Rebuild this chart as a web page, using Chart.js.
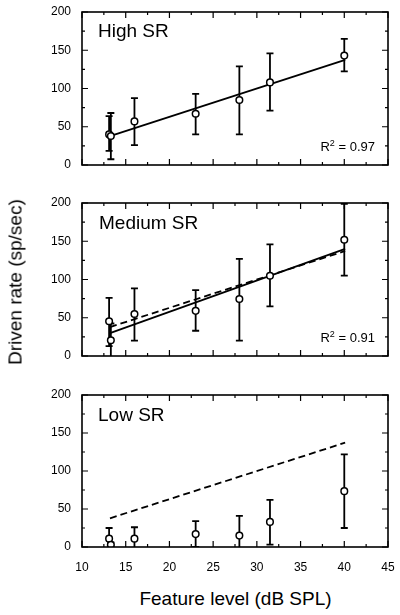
<!DOCTYPE html>
<html><head><meta charset="utf-8">
<script src="https://cdn.jsdelivr.net/npm/chart.js@4/dist/chart.umd.min.js"></script>
<style>
html,body{margin:0;padding:0;background:#fff;}
body{width:400px;height:615px;position:relative;overflow:hidden;font-family:"Liberation Sans",Arial,Helvetica,sans-serif;color:#000;}
canvas{position:absolute;left:0;}
.t{position:absolute;line-height:1;white-space:nowrap;color:#000;}
.sup{font-size:9px;position:relative;top:-5px;}
</style></head><body>
<canvas id="c1" width="400" height="180" style="top:0px;width:400px;height:180px"></canvas>
<canvas id="c2" width="400" height="180" style="top:191px;width:400px;height:180px"></canvas>
<canvas id="c3" width="400" height="200" style="top:383px;width:400px;height:200px"></canvas>

<div class="t" style="left:98px;top:20.7px;font-size:19px">High SR</div>
<div class="t" style="left:99px;top:213.2px;font-size:19px">Medium SR</div>
<div class="t" style="left:98px;top:404.6px;font-size:19px">Low SR</div>
<div class="t" style="right:25px;top:139.7px;font-size:13px">R<span class="sup">2</span> = 0.97</div>
<div class="t" style="right:25px;top:330.7px;font-size:13px">R<span class="sup">2</span> = 0.91</div>
<div class="t" style="left:235.5px;top:588.9px;font-size:19px;transform:translateX(-50%)">Feature level (dB SPL)</div>
<div class="t" style="left:14.5px;top:281.7px;font-size:19px;transform:translate(-50%,-50%) rotate(-90deg)">Driven rate (sp/sec)</div>

<script>
// ---- data ----
const featureLevel = [13.1, 13.3, 16.0, 23.0, 28.0, 31.5, 40.0];

const highMean  = [40, 38, 57, 67, 85, 108, 143];
const highLower = [18.5, 7.5, 26, 40, 40, 71, 122.5];
const highUpper = [64, 68, 87.5, 93, 129, 146, 165];

const medMean  = [45.5, 20.5, 55, 59, 74.5, 105, 152];
const medLower = [13, -1.5, 20, 33, 20, 65, 105];
const medUpper = [76, 42.5, 88.5, 86, 127, 146, 199];

const lowMean  = [11, 3, 11, 17, 15, 33, 73.5];
const lowLower = [-3, 0, -4, 0, -11, 3, 25];
const lowUpper = [25, 6, 26, 34, 41, 62, 122];

const fitX    = [13.2, 40.1];
const highFit = [37.8, 137.3];   // High SR regression (also shown dashed in other panels)
const medFit  = [30, 140];

const xTicks = [10, 15, 20, 25, 30, 35, 40, 45];
const xMinorTicks = [12.5, 17.5, 22.5, 27.5, 32.5, 37.5, 42.5];
const yTicks = [0, 50, 100, 150, 200];
const yMinorTicks = [25, 75, 125, 175];

// ---- plugin: error bars, frame, inward ticks ----
const panelPlugin = {
  id: 'panel',
  beforeDatasetsDraw(chart, args, opts) {
    const ctx = chart.ctx, xs = chart.scales.x, ys = chart.scales.y, a = chart.chartArea;
    ctx.save();
    ctx.beginPath();
    ctx.rect(a.left, a.top, a.right - a.left, a.bottom - a.top);
    ctx.clip();
    ctx.strokeStyle = '#000';
    ctx.lineWidth = 1.8;
    const cap = 3.5;
    opts.x.forEach((xv, i) => {
      const px = xs.getPixelForValue(xv);
      const pt = ys.getPixelForValue(opts.hi[i]);
      const pb = ys.getPixelForValue(opts.lo[i]);
      ctx.beginPath();
      ctx.moveTo(px, pt); ctx.lineTo(px, pb);
      ctx.moveTo(px - cap, pt); ctx.lineTo(px + cap, pt);
      ctx.moveTo(px - cap, pb); ctx.lineTo(px + cap, pb);
      ctx.stroke();
    });
    ctx.restore();
  },
  afterDatasetsDraw(chart) {
    const ctx = chart.ctx, xs = chart.scales.x, ys = chart.scales.y, a = chart.chartArea;
    ctx.save();
    ctx.strokeStyle = '#000';
    ctx.lineWidth = 1.2;
    const major = 6, minor = 3;
    ctx.beginPath();
    const xt = (v, len) => {
      const p = xs.getPixelForValue(v);
      ctx.moveTo(p, a.bottom); ctx.lineTo(p, a.bottom - len);
      ctx.moveTo(p, a.top); ctx.lineTo(p, a.top + len);
    };
    const yt = (v, len) => {
      const p = ys.getPixelForValue(v);
      ctx.moveTo(a.left, p); ctx.lineTo(a.left + len, p);
      ctx.moveTo(a.right, p); ctx.lineTo(a.right - len, p);
    };
    xTicks.forEach(v => xt(v, major));
    xMinorTicks.forEach(v => xt(v, minor));
    yTicks.forEach(v => yt(v, major));
    yMinorTicks.forEach(v => yt(v, minor));
    ctx.stroke();
    ctx.lineWidth = 1.6;
    ctx.strokeRect(a.left, a.top, a.right - a.left, a.bottom - a.top);
    ctx.restore();
  }
};

Chart.defaults.font.family = '"Liberation Sans", Arial, Helvetica, sans-serif';
Chart.defaults.color = '#000';

function makePanel(id, mean, lower, upper, lines, showX) {
  const pts = featureLevel.map((x, i) => ({x: x, y: mean[i]}));
  const datasets = [{
    type: 'scatter',
    data: pts,
    pointStyle: 'circle',
    pointRadius: 3.3,
    pointBorderWidth: 1.5,
    pointBackgroundColor: '#fff',
    pointBorderColor: '#000',
    showLine: false
  }];
  lines.forEach(l => {
    datasets.push({
      type: 'line',
      data: fitX.map((x, i) => ({x: x, y: l.y[i]})),
      borderColor: '#000',
      borderWidth: 1.8,
      borderDash: l.dash ? [7, 4] : [],
      pointRadius: 0,
      fill: false,
      tension: 0
    });
  });
  return new Chart(document.getElementById(id), {
    type: 'scatter',
    data: { datasets },
    options: {
      responsive: false,
      maintainAspectRatio: false,
      animation: false,
      events: [],
      layout: { padding: { top: 12, right: 12, left: 0, bottom: showX ? 0 : 15 } },
      plugins: {
        legend: { display: false },
        tooltip: { enabled: false },
        panel: { x: featureLevel, lo: lower, hi: upper }
      },
      scales: {
        x: {
          type: 'linear',
          min: 10, max: 45,
          display: showX,
          grid: { display: false, drawTicks: true, tickLength: 13.5 },
          border: { display: false },
          afterBuildTicks: s => { s.ticks = xTicks.map(v => ({value: v})); },
          afterFit: s => { if (showX) s.height = 36; },
          ticks: { font: { size: 12 }, padding: 0, maxRotation: 0, autoSkip: false }
        },
        y: {
          type: 'linear',
          min: 0, max: 200,
          grid: { display: false, drawTicks: true, tickLength: 11 },
          border: { display: false },
          afterBuildTicks: s => { s.ticks = yTicks.map(v => ({value: v})); },
          afterFit: s => { s.width = 82; },
          ticks: { font: { size: 12 }, padding: 0 }
        }
      }
    },
    plugins: [panelPlugin]
  });
}

makePanel('c1', highMean, highLower, highUpper, [{y: highFit, dash: false}], false);
makePanel('c2', medMean, medLower, medUpper, [{y: medFit, dash: false}, {y: highFit, dash: true}], false);
makePanel('c3', lowMean, lowLower, lowUpper, [{y: highFit, dash: true}], true);
</script>
</body></html>
